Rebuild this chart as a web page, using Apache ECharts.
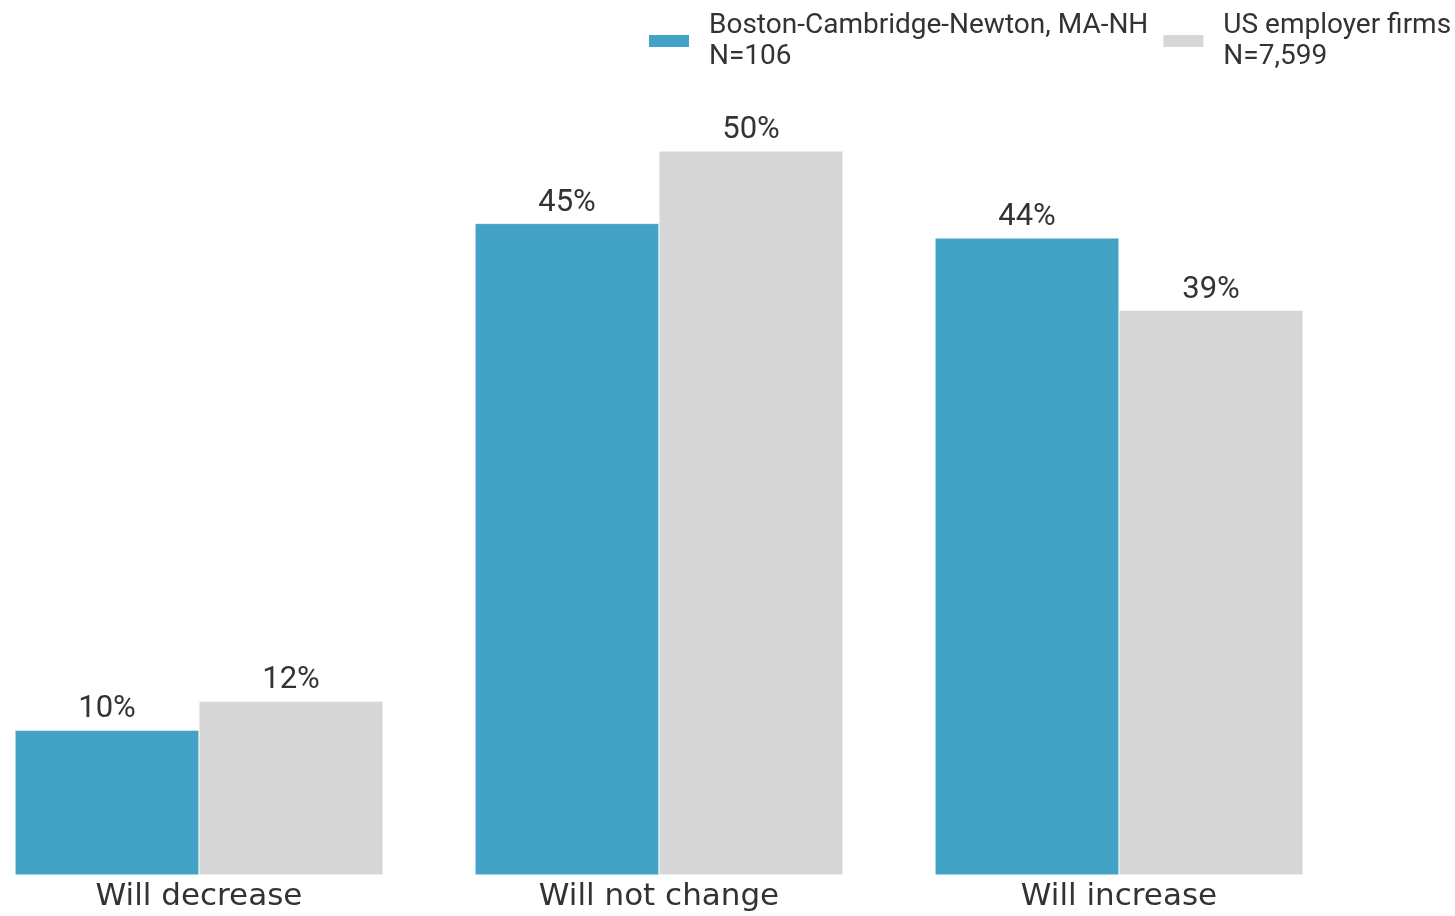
<!DOCTYPE html>
<html>
<head>
<meta charset="utf-8">
<script src="https://cdn.jsdelivr.net/npm/echarts@6/dist/echarts.min.js"></script>
<style>html,body{margin:0;padding:0;background:#fff;}#c{width:1455px;height:916px;}</style>
</head>
<body>
<div id="c"></div>
<script>
var categories = ['Will decrease', 'Will not change', 'Will increase'];
var seriesNames = ['Boston-Cambridge-Newton, MA-NH', 'US employer firms'];
var seriesN = ['N=106', 'N=7,599'];
var bostonValues = [10, 45, 44];
var usValues = [12, 50, 39];
var colors = ['#42a3c7', '#d6d6d6'];

var chart = echarts.init(document.getElementById('c'));
var labelCfg = {
  show: true, position: 'top', distance: 5,
  formatter: function (p) { return p.value + '%'; },
  fontFamily: 'Roboto', fontSize: 31, color: '#333'
};
chart.setOption({
  animation: false,
  textStyle: { fontFamily: 'Roboto' },
  legend: {
    left: 647, top: 0, width: 1200, padding: 0,
    itemWidth: 42, itemHeight: 14, itemGap: 13,
    icon: 'rect',
    formatter: function (name) {
      var i = seriesNames.indexOf(name);
      return name + '\n' + seriesN[i];
    },
    textStyle: { fontFamily: 'Roboto', fontSize: 28, lineHeight: 31, color: '#333', padding: [0, 0, 20, 14] }
  },
  grid: { left: 199, right: 336, top: 151, bottom: 41, containLabel: false },
  xAxis: {
    type: 'category', data: categories, boundaryGap: false,
    axisLine: { show: false }, axisTick: { show: false },
    axisLabel: { fontFamily: 'DejaVu Sans', fontSize: 31, color: '#333', margin: 6 }
  },
  yAxis: { type: 'value', min: 0, max: 50, show: false, splitLine: { show: false } },
  series: [
    { name: seriesNames[0], type: 'bar', data: bostonValues, barGap: '0%', barWidth: 184,
      itemStyle: { color: colors[0], borderColor: '#fff', borderWidth: 0.5 }, label: labelCfg },
    { name: seriesNames[1], type: 'bar', data: usValues, barGap: '0%', barWidth: 184,
      itemStyle: { color: colors[1], borderColor: '#fff', borderWidth: 0.5 }, label: labelCfg }
  ]
});
</script>
</body>
</html>
